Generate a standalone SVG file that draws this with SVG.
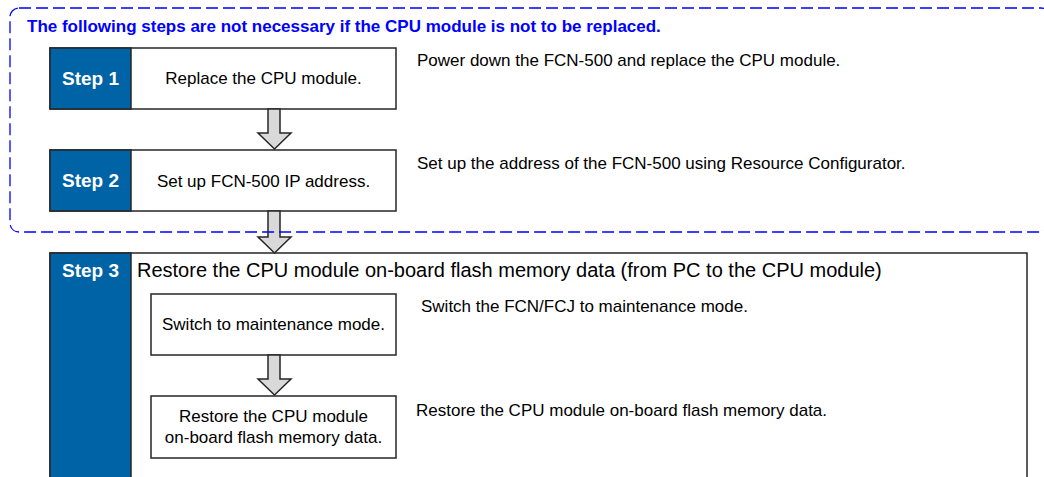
<svg xmlns="http://www.w3.org/2000/svg" width="1044" height="477" viewBox="0 0 1044 477">
<style>
.box{fill:#fff;stroke:#262626;stroke-width:1.5}
.blue{fill:#0063a6;stroke:#262626;stroke-width:1.5}
.step{font-family:"Liberation Sans",Arial,sans-serif;font-weight:bold;font-size:19px;fill:#fff;text-anchor:middle}
.t{font-family:"Liberation Sans",Arial,sans-serif;font-size:17px;fill:#000}
.c{text-anchor:middle}
.arrow{fill:#d9d9d9;stroke:#262626;stroke-width:1.5;stroke-linejoin:miter}
.dash{fill:none;stroke:#0000ff;stroke-width:1.3;stroke-dasharray:12 5}
.note{font-family:"Liberation Sans",Arial,sans-serif;font-weight:bold;font-size:17px;fill:#0000ff}
</style>
<rect width="1044" height="477" fill="#fff"/>
<text class="note" x="27" y="32">The following steps are not necessary if the CPU module is not to be replaced.</text>
<g id="step1">
<rect class="box" x="50" y="48" width="346" height="61"/>
<rect class="blue" x="50" y="48" width="81" height="61"/>
<text class="step" x="90.5" y="85">Step 1</text>
<text class="t c" x="263.5" y="84">Replace the CPU module.</text>
</g>
<g id="note1"><text class="t" x="417" y="66">Power down the FCN-500 and replace the CPU module.</text></g>
<g id="step2">
<rect class="box" x="50" y="150" width="346" height="61"/>
<rect class="blue" x="50" y="150" width="81" height="61"/>
<text class="step" x="90.5" y="187">Step 2</text>
<text class="t c" x="263.5" y="187">Set up FCN-500 IP address.</text>
</g>
<g id="note2"><text class="t" x="417" y="169">Set up the address of the FCN-500 using Resource Configurator.</text></g>
<g id="step3">
<rect class="box" x="50" y="253" width="977" height="240"/>
<rect class="blue" x="50" y="253" width="81" height="240"/>
<text class="step" x="90.5" y="277">Step 3</text>
<text class="t" x="137" y="277" style="font-size:20px">Restore the CPU module on-board flash memory data (from PC to the CPU module)</text>
</g>
<g id="step3a">
<rect class="box" x="151" y="294" width="245" height="61"/>
<text class="t c" x="273.5" y="330">Switch to maintenance mode.</text>
</g>
<g id="note3a"><text class="t" x="421" y="312">Switch the FCN/FCJ to maintenance mode.</text></g>
<g id="step3b">
<rect class="box" x="151" y="396" width="245" height="62"/>
<text class="t c" x="273.5" y="422">Restore the CPU module</text>
<text class="t c" x="273.5" y="443">on-board flash memory data.</text>
</g>
<g id="note3b"><text class="t" x="416" y="416">Restore the CPU module on-board flash memory data.</text></g>
<g id="connectors">
<polygon class="arrow" points="268,109 280,109 280,133 291,133 274.5,149 258,133 268,133"/>
<polygon class="arrow" points="268,211 280,211 280,237 291,237 274.5,253 258,237 268,237"/>
<polygon class="arrow" points="268,355 280,355 280,379 291,379 274.5,395 258,379 268,379"/>
</g>
<g id="optional-group">
<rect class="dash" x="10" y="8" width="1040" height="224" rx="9"/>
</g>
</svg>
